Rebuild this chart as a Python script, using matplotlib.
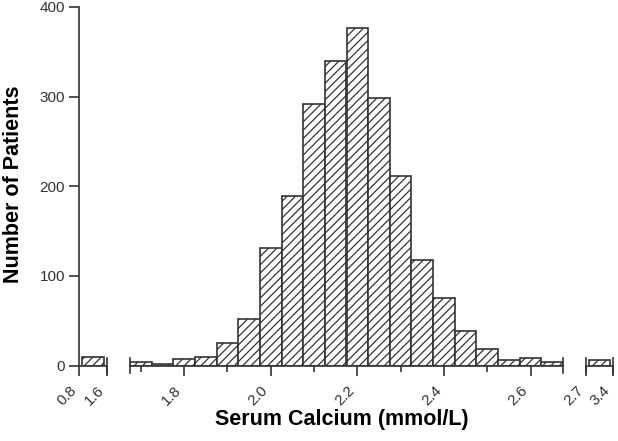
"""Serum calcium histogram with a broken x-axis (three panels)."""

import matplotlib
matplotlib.use("Agg")
import matplotlib.pyplot as plt
import numpy as np

plt.rcParams["font.family"] = ["Liberation Sans", "DejaVu Sans"]
plt.rcParams["hatch.linewidth"] = 0.9
plt.rcParams["hatch.color"] = "#333333"

# main segment: bins 0.05 mmol/L wide, centred on these values
centers = [1.70, 1.75, 1.80, 1.85, 1.90, 1.95, 2.00, 2.05, 2.10, 2.15,
           2.20, 2.25, 2.30, 2.35, 2.40, 2.45, 2.50, 2.55, 2.60, 2.65]
counts = [4, 2, 7, 9, 25, 52, 131, 189, 292, 340,
          377, 299, 211, 118, 75, 39, 18, 6, 8, 4]
bin_width = 0.05

# outlying catch-all bins
low_range = (0.8, 1.6)
low_count = 10
high_range = (2.7, 3.4)
high_count = 6

main_ticks = [1.8, 2.0, 2.2, 2.4, 2.6]
main_minor = [1.7, 1.9, 2.1, 2.3, 2.5]
y_ticks = [0, 100, 200, 300, 400]

EDGE = "#333333"
TXT = "#333333"
W, H = 618, 441
fig = plt.figure(figsize=(W / 100, H / 100), dpi=100)

bottom = (H - 365.5) / H
height = (365.5 - 7) / H


def panel(x0, x1):
    ax = fig.add_axes([x0 / W, bottom, (x1 - x0) / W, height])
    ax.set_ylim(0, 400)
    for s in ("top", "right", "left"):
        ax.spines[s].set_visible(False)
    ax.spines["bottom"].set_color(EDGE)
    ax.spines["bottom"].set_linewidth(1.2)
    ax.tick_params(axis="x", colors=EDGE, labelcolor=TXT, labelsize=11,
                   length=7, width=1.2, direction="out", pad=6)
    ax.tick_params(axis="x", which="minor", length=4, width=1.2, colors=EDGE)
    ax.set_yticks([])
    return ax


def rot_labels(ax):
    # rotated bbox right edge sits on the tick, as in the source figure
    for lab in ax.get_xticklabels():
        lab.set_rotation(45)
        lab.set_ha("right")
        lab.set_va("top")
        lab.set_rotation_mode("default")


def break_marks(ax, xs):
    for x in xs:
        ax.plot([x, x], [-0.022, 0.022], transform=ax.get_xaxis_transform(),
                color=EDGE, lw=1.2, clip_on=False)


bar_kw = dict(facecolor="white", edgecolor=EDGE, linewidth=1.2, hatch="////")

# low panel
ax1 = panel(79, 107)
ax1.set_xlim(*low_range)
lw = (low_range[1] - low_range[0]) * 0.8
ax1.bar([np.mean(low_range)], [low_count], width=lw, **bar_kw)
ax1.set_xticks(list(low_range))
ax1.set_xticklabels([f"{v:g}" for v in low_range])
ax1.spines["left"].set_visible(True)
ax1.spines["left"].set_color(EDGE)
ax1.spines["left"].set_linewidth(1.2)
ax1.set_yticks(y_ticks)
ax1.tick_params(axis="y", colors=EDGE, labelcolor=TXT, labelsize=11,
                length=7, width=1.2, pad=3)
rot_labels(ax1)
break_marks(ax1, [low_range[1]])

# main panel
ax2 = panel(130, 563)
lo = centers[0] - bin_width / 2
hi = centers[-1] + bin_width / 2
ax2.set_xlim(lo, hi)
ax2.bar(centers, counts, width=bin_width, **bar_kw)
ax2.set_xticks(main_ticks)
ax2.set_xticklabels([f"{v:.1f}" for v in main_ticks])
ax2.set_xticks(main_minor, minor=True)
rot_labels(ax2)
break_marks(ax2, [lo, hi])

# high panel
ax3 = panel(586, 613)
ax3.set_xlim(*high_range)
hw = (high_range[1] - high_range[0]) * 0.78
ax3.bar([np.mean(high_range)], [high_count], width=hw, **bar_kw)
ax3.set_xticks(list(high_range))
ax3.set_xticklabels([f"{v:g}" for v in high_range])
rot_labels(ax3)
break_marks(ax3, list(high_range))

fig.text(14 / W, 1 - 184 / H, "Number of Patients", fontsize=15.5,
         fontweight="bold", rotation=90, ha="center", va="center")
fig.text(342 / W, 1 - 419 / H, "Serum Calcium (mmol/L)", fontsize=15.5,
         fontweight="bold", ha="center", va="center")

fig.savefig("out.png", dpi=100)
